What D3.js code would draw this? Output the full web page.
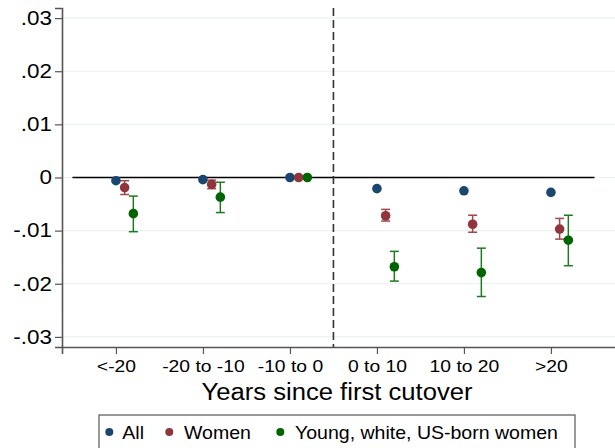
<!DOCTYPE html>
<html><head><meta charset="utf-8">
<script src="https://cdn.jsdelivr.net/npm/d3@7"></script>
<style>body{margin:0;background:#fff;} svg{display:block;font-family:"Liberation Sans",Arial,sans-serif;}</style>
</head><body>
<svg id="c" width="615" height="448"></svg>
<script>
const categories = ["<-20","-20 to -10","-10 to 0","0 to 10","10 to 20",">20"];
const seriesNames = ["All","Women","Young, white, US-born women"];
const seriesColors = ["#1a476f","#90353b","#006400"];
const barColors = ["#1a476f","#a0484e","#1f7a1f"];
const allEst   = [-0.0006,-0.0004,0,-0.0021,-0.0025,-0.0028];
const womenEst = [-0.0019,-0.0013,0,-0.0072,-0.0088,-0.0097];
const womenLo  = [-0.0032,-0.0021,null,-0.0082,-0.0103,-0.0116];
const womenHi  = [-0.0006,-0.0005,null,-0.0060,-0.0071,-0.0077];
const youngEst = [-0.0068,-0.0037,0,-0.0168,-0.0179,-0.0118];
const youngLo  = [-0.0102,-0.0066,null,-0.0195,-0.0224,-0.0166];
const youngHi  = [-0.0035,-0.0009,null,-0.0139,-0.0133,-0.0071];
const yTicks = [0.03,0.02,0.01,0,-0.01,-0.02,-0.03];
const yTickLabels = [".03",".02",".01","0","-.01","-.02","-.03"];
const offsets = [0,0.1,0.2];

function stretch(sel, f){
  sel.each(function(){
    const w = this.getComputedTextLength();
    this.setAttribute("textLength", w*f);
    this.setAttribute("lengthAdjust","spacingAndGlyphs");
  });
}

const svg = d3.select("#c");
const x = d3.scaleLinear().domain([0.38, 0.38+558/87]).range([62,620]);
const y = d3.scaleLinear().domain([-0.0319,0.0319]).range([347,8]);

// gridlines
svg.append("g").selectAll("line").data(yTicks).join("line")
  .attr("x1",62).attr("x2",620).attr("y1",d=>y(d)).attr("y2",d=>y(d))
  .attr("stroke","#eaf2f3").attr("stroke-width",1.2);

// y axis
const yAxis = d3.axisLeft(y).tickValues(yTicks).tickFormat((d,i)=>yTickLabels[i]).tickSize(7).tickPadding(3);
const gy = svg.append("g").attr("transform","translate(62,0)").call(yAxis);
gy.select(".domain").attr("stroke","#555").attr("stroke-width",1.6);
gy.selectAll(".tick line").attr("stroke","#555").attr("stroke-width",1.2);
gy.selectAll(".tick text").attr("font-size","19.5px").attr("fill","#000").attr("font-family","Liberation Sans, Arial, sans-serif");
stretch(gy.selectAll(".tick text"), 1.15);

// x axis
const xAxis = d3.axisBottom(x).tickValues(d3.range(1,7)).tickFormat(d=>categories[d-1]).tickSize(7).tickPadding(6);
const gx = svg.append("g").attr("transform","translate(0,347)").call(xAxis);
gx.select(".domain").attr("stroke","#555").attr("stroke-width",1.6);
gx.selectAll(".tick line").attr("stroke","#555").attr("stroke-width",1.2);
gx.selectAll(".tick text").attr("font-size","16.5px").attr("fill","#000").attr("font-family","Liberation Sans, Arial, sans-serif");
stretch(gx.selectAll(".tick text"), 1.17);

// zero line
svg.append("line").attr("x1",x(0.5)).attr("x2",x(6.5)).attr("y1",y(0)).attr("y2",y(0))
  .attr("stroke","#000").attr("stroke-width",1.5);
// dashed line
svg.append("line").attr("x1",x(3.5)).attr("x2",x(3.5)).attr("y1",8).attr("y2",347)
  .attr("stroke","#333").attr("stroke-width",1.6).attr("stroke-dasharray","8,4");

// error bars
const bars = [[womenLo,womenHi,1],[youngLo,youngHi,2]];
bars.forEach(([lo,hi,s])=>{
  const g = svg.append("g").attr("stroke",barColors[s]).attr("stroke-width",1.5);
  const idx = d3.range(categories.length).filter(i=>lo[i]!==null);
  g.selectAll(".v").data(idx).join("line")
    .attr("x1",i=>x(i+1+offsets[s])).attr("x2",i=>x(i+1+offsets[s]))
    .attr("y1",i=>y(lo[i])).attr("y2",i=>y(hi[i]));
  [lo,hi].forEach(arr=>{
    g.selectAll(null).data(idx).join("line")
      .attr("x1",i=>x(i+1+offsets[s])-4.5).attr("x2",i=>x(i+1+offsets[s])+4.5)
      .attr("y1",i=>y(arr[i])).attr("y2",i=>y(arr[i]));
  });
});

// points
[allEst,womenEst,youngEst].forEach((vals,s)=>{
  svg.append("g").selectAll("circle").data(vals).join("circle")
    .attr("cx",(d,i)=>x(i+1+offsets[s])).attr("cy",d=>y(d)).attr("r",4.8)
    .attr("fill",seriesColors[s]);
});

// axis title
const title = svg.append("text").attr("x",337).attr("y",399.5).attr("text-anchor","middle")
  .attr("font-size","23.5px").text("Years since first cutover");
stretch(title, 1.09);

// legend
svg.append("rect").attr("x",99).attr("y",415).attr("width",476).attr("height",45)
  .attr("fill","#fff").attr("stroke","#555").attr("stroke-width",1.2);
const legX = [109.3,169.3,280.3];
const legTX = [122.3,184,295];
seriesNames.forEach((n,i)=>{
  svg.append("circle").attr("cx",legX[i]).attr("cy",432).attr("r",4).attr("fill",seriesColors[i]);
  const t = svg.append("text").attr("x",legTX[i]).attr("y",439.3).attr("font-size","18.5px").text(n);
  stretch(t, 1.055);
});
</script>
</body></html>
